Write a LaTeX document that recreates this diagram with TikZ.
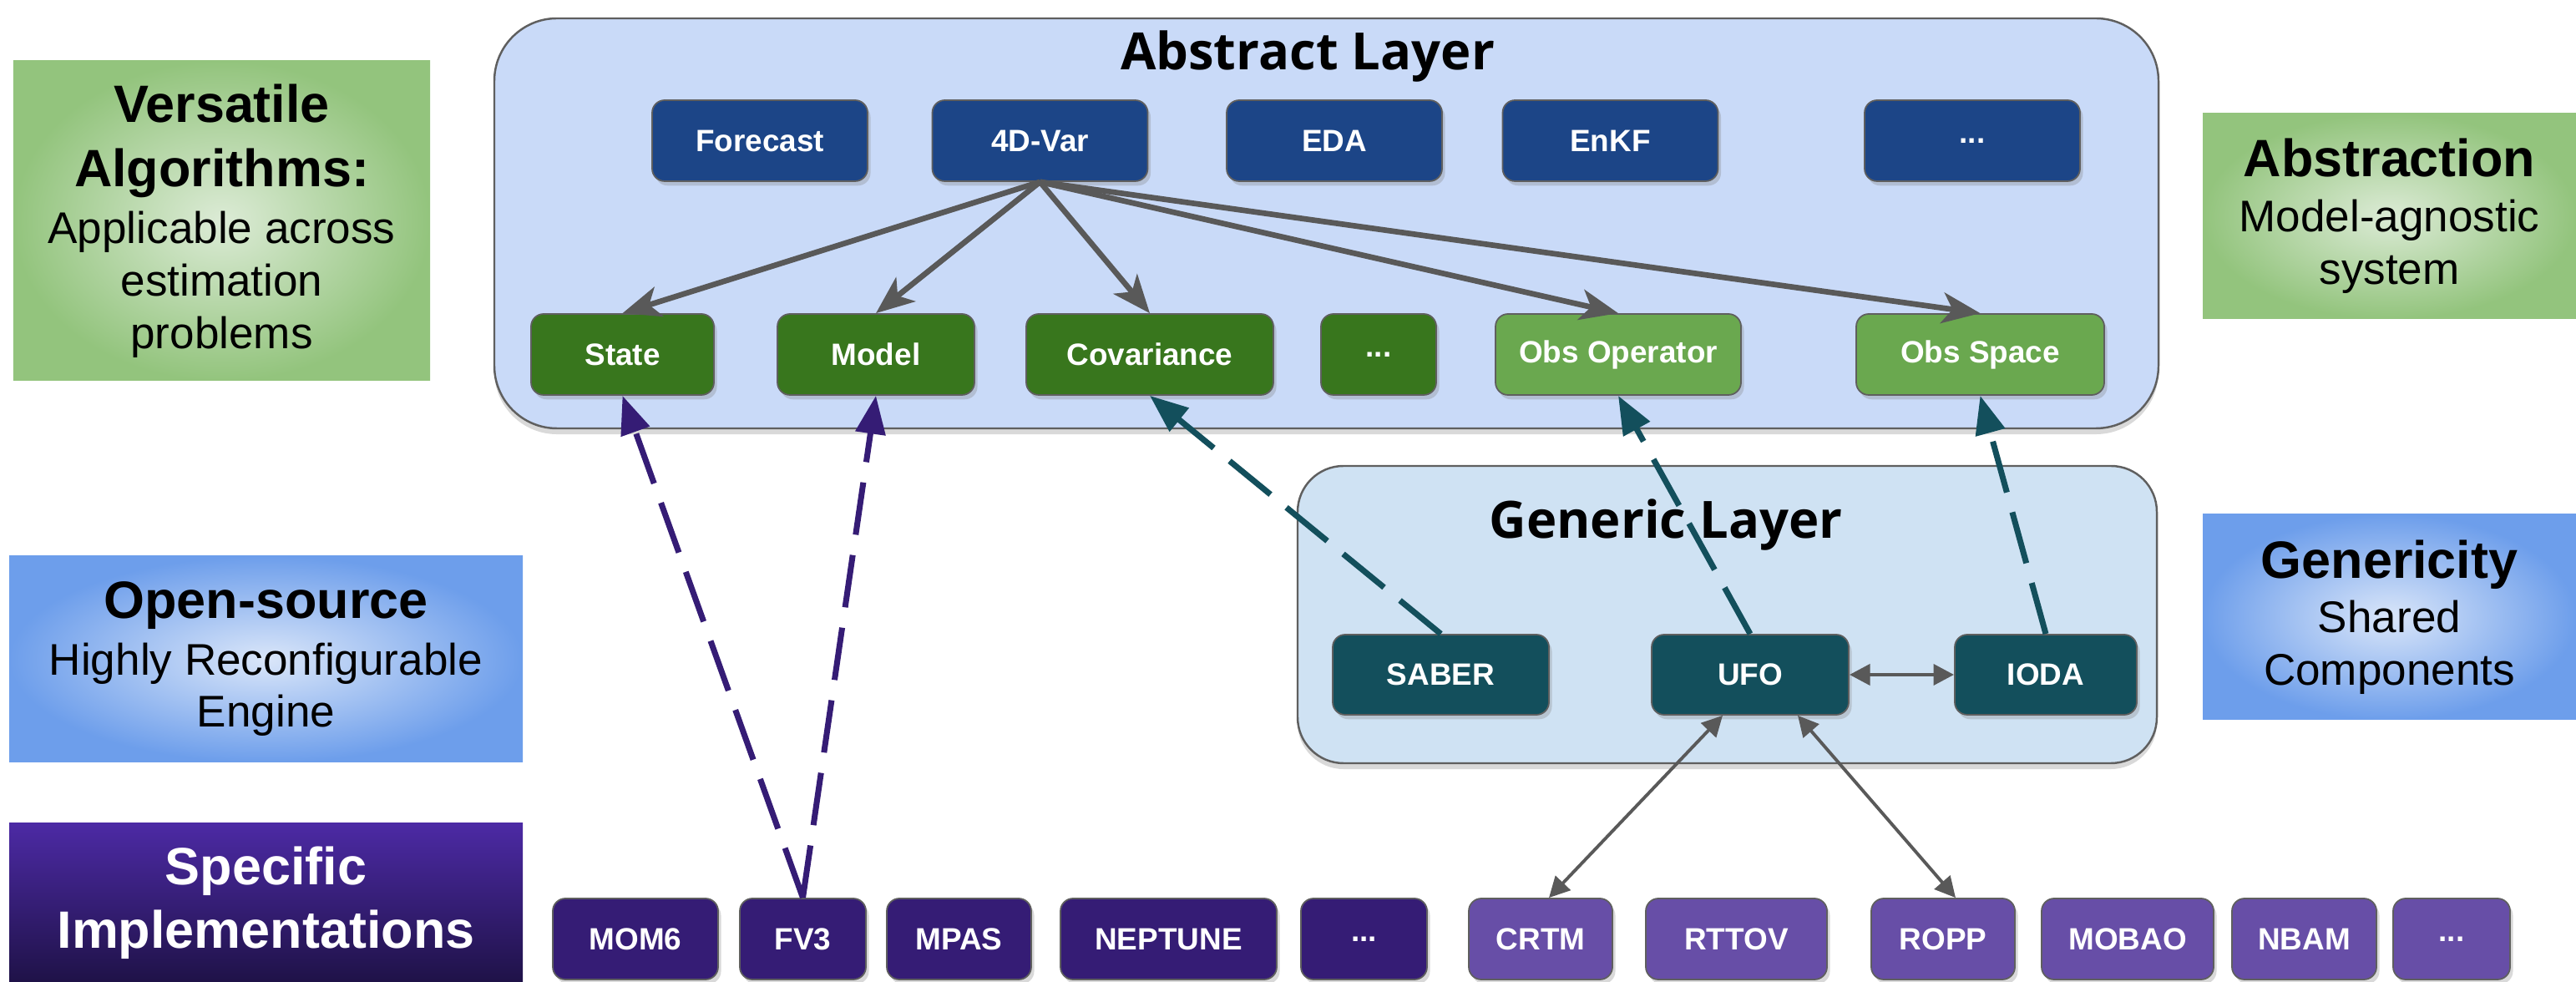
\documentclass[tikz,border=0pt]{standalone}
\usepackage{fontspec}
\setmainfont{Liberation Sans}
\newfontfamily\layerfont{Open Sans}
\usetikzlibrary{arrows.meta,shadows}

\definecolor{absbg}{HTML}{C9DAF8}
\definecolor{genbg}{HTML}{CFE2F3}
\definecolor{algoblue}{HTML}{1C4587}
\definecolor{compgreen}{HTML}{38761D}
\definecolor{obsgreen}{HTML}{6AA84F}
\definecolor{genteal}{HTML}{134F5C}
\definecolor{modelpurple}{HTML}{351C75}
\definecolor{obspurple}{HTML}{674EA7}
\definecolor{arrowgray}{HTML}{595959}
\definecolor{edgegray}{HTML}{5F5F5F}
\definecolor{greeninner}{HTML}{DCEBD6}
\definecolor{greenouter}{HTML}{93C47D}
\definecolor{blueinner}{HTML}{DAE6F9}
\definecolor{blueouter}{HTML}{6D9EEB}
\definecolor{spectop}{HTML}{4C2AA4}
\definecolor{specbottom}{HTML}{1F1248}

\newcommand{\headsize}{\bfseries\fontsize{17.9}{21.6}\selectfont}
\newcommand{\bodysize}{\fontsize{15.1}{17.9}\selectfont}

\tikzset{
  box/.style={rounded corners=0.15cm, draw=edgegray, line width=0.5pt, text=white,
    minimum height=0.97cm, inner sep=2pt, font=\bfseries\fontsize{10.5}{12}\selectfont,
    drop shadow={shadow xshift=1pt, shadow yshift=-1.5pt, opacity=0.3}},
  layer/.style={rounded corners=#1, draw=edgegray, line width=0.7pt,
    drop shadow={shadow xshift=0pt, shadow yshift=-2pt, opacity=0.3}},
  side/.style={inner sep=0pt, align=center, font=\bodysize},
  layertitle/.style={anchor=base, font=\layerfont\bfseries\fontsize{17.5}{20}\selectfont},
  uses/.style={arrowgray, line width=1.9pt, -{Stealth[length=13pt, width=10.5pt, inset=3.5pt]}},
  implements/.style={line width=2pt, dash pattern=on 18pt off 7pt, -{Triangle[length=13pt, width=10pt]}},
  links/.style={arrowgray, line width=1.1pt, {Triangle[length=7pt, width=7pt]}-{Triangle[length=7pt, width=7pt]}}
}

\begin{document}
\begin{tikzpicture}
\useasboundingbox (0,0) rectangle (30.85,-11.76);

% side panels
\node[side, minimum width=4.99cm, minimum height=3.83cm, inner color=greeninner, outer color=greenouter] (versatile) at (2.655,-2.645)
  {{\headsize Versatile}\\[4pt]{\headsize Algorithms:}\\[1.4pt]Applicable across\\estimation\\problems};
\node[side, minimum width=6.15cm, minimum height=2.47cm, inner color=blueinner, outer color=blueouter] (opensource) at (3.185,-7.895)
  {{\headsize Open-source}\\[1.2pt]Highly Reconfigurable\\Engine};
\node[side, minimum width=6.15cm, minimum height=1.90cm, top color=spectop, bottom color=specbottom, text=white, font=\headsize] (specific) at (3.185,-10.81)
  {Specific\\Implementations};
\node[side, minimum width=4.47cm, minimum height=2.46cm, inner color=greeninner, outer color=greenouter] (abstraction) at (28.615,-2.59)
  {{\headsize Abstraction}\\[0.9pt]Model-agnostic\\system};
\node[side, minimum width=4.47cm, minimum height=2.46cm, inner color=blueinner, outer color=blueouter] (genericity) at (28.615,-7.39)
  {{\headsize Genericity}\\[0.6pt]Shared\\Components};

% layers
\node[layer=0.75cm, fill=absbg, minimum width=19.93cm, minimum height=4.91cm] (abstract) at (15.885,-2.675) {};
\node[layertitle] (abstitle) at (15.66,-0.84) {Abstract Layer};
\node[layer=0.55cm, fill=genbg, minimum width=10.29cm, minimum height=3.56cm] (genlayer) at (20.685,-7.36) {};
\node[layertitle] (gentitle) at (19.95,-6.45) {Generic Layer};

% algorithms
\begin{scope}[every node/.style={box, fill=algoblue, minimum width=2.58cm}]
\node (forecast) at (9.10,-1.685) {Forecast};
\node (fourdvar) at (12.455,-1.685) {4D-Var};
\node (eda) at (15.98,-1.685) {EDA};
\node (enkf) at (19.285,-1.685) {EnKF};
\node (algomore) at (23.62,-1.685) {...};
\end{scope}

% abstract components
\begin{scope}[every node/.style={box, fill=compgreen}]
\node[minimum width=2.19cm] (state) at (7.455,-4.245) {State};
\node[minimum width=2.36cm] (model) at (10.49,-4.245) {Model};
\node[minimum width=2.96cm] (covariance) at (13.77,-4.245) {Covariance};
\node[minimum width=1.38cm] (compmore) at (16.51,-4.245) {...};
\node[minimum width=2.94cm, fill=obsgreen] (obsoperator) at (19.38,-4.245) {Obs Operator};
\node[minimum width=2.97cm, fill=obsgreen] (obsspace) at (23.715,-4.245) {Obs Space};
\end{scope}

% generic components
\begin{scope}[every node/.style={box, fill=genteal, minimum height=0.96cm}]
\node[minimum width=2.59cm] (saber) at (17.255,-8.08) {SABER};
\node[minimum width=2.36cm] (ufo) at (20.96,-8.08) {UFO};
\node[minimum width=2.18cm] (ioda) at (24.50,-8.08) {IODA};
\end{scope}

% specific implementations
\begin{scope}[every node/.style={box, fill=modelpurple}]
\node[minimum width=1.98cm] (mom6) at (7.61,-11.245) {MOM6};
\node[minimum width=1.51cm] (fv3) at (9.615,-11.245) {FV3};
\node[minimum width=1.73cm] (mpas) at (11.485,-11.245) {MPAS};
\node[minimum width=2.59cm] (neptune) at (13.995,-11.245) {NEPTUNE};
\node[minimum width=1.51cm] (modelmore) at (16.335,-11.245) {...};
\node[minimum width=1.72cm, fill=obspurple] (crtm) at (18.45,-11.245) {CRTM};
\node[minimum width=2.17cm, fill=obspurple] (rttov) at (20.795,-11.245) {RTTOV};
\node[minimum width=1.72cm, fill=obspurple] (ropp) at (23.27,-11.245) {ROPP};
\node[minimum width=2.06cm, fill=obspurple] (mobao) at (25.48,-11.245) {MOBAO};
\node[minimum width=1.73cm, fill=obspurple] (nbam) at (27.595,-11.245) {NBAM};
\node[minimum width=1.40cm, fill=obspurple] (obsmore) at (29.36,-11.245) {...};
\end{scope}

% connectors
\draw[uses] (fourdvar.south) -- (state.north);
\draw[uses] (fourdvar.south) -- (model.north);
\draw[uses] (fourdvar.south) -- (covariance.north);
\draw[uses] (fourdvar.south) -- (obsoperator.north);
\draw[uses] (fourdvar.south) -- (obsspace.north);
\draw[implements, modelpurple] (fv3.north) -- (state.south);
\draw[implements, modelpurple] (fv3.north) -- (model.south);
\draw[implements, genteal] (saber.north) -- (covariance.south);
\draw[implements, genteal] (ufo.north) -- (obsoperator.south);
\draw[implements, genteal] (ioda.north) -- (obsspace.south);
\draw[links, line width=1.4pt] (ufo.east) -- (ioda.west);
\draw[links] ([xshift=-3.3mm]ufo.south) -- ([xshift=1mm]crtm.north);
\draw[links] ([xshift=5.7mm]ufo.south) -- ([xshift=1.5mm]ropp.north);
\end{tikzpicture}
\end{document}
